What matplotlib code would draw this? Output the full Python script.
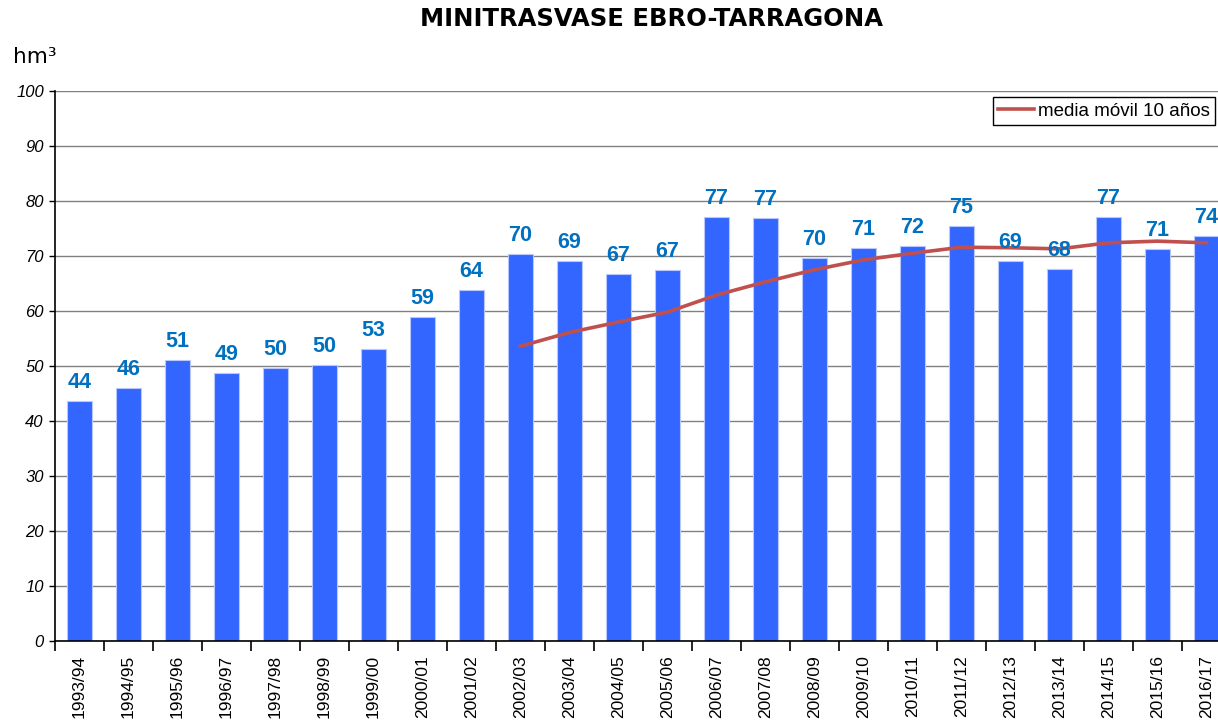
import numpy as np
import matplotlib
matplotlib.use('Agg')
import matplotlib.pyplot as plt

plt.rcParams['font.family'] = ['Liberation Sans', 'DejaVu Sans']

seasons = ['1993/94', '1994/95', '1995/96', '1996/97', '1997/98', '1998/99',
           '1999/00', '2000/01', '2001/02', '2002/03', '2003/04', '2004/05',
           '2005/06', '2006/07', '2007/08', '2008/09', '2009/10', '2010/11',
           '2011/12', '2012/13', '2013/14', '2014/15', '2015/16', '2016/17']
volume = [43.6, 46.0, 51.1, 48.7, 49.6, 50.2, 53.1, 58.9, 63.8, 70.4, 69.1, 66.7,
          67.4, 77.1, 76.9, 69.6, 71.4, 71.8, 75.4, 69.1, 67.6, 77.1, 71.3, 73.6]
# media movil 10 anos (from 2002/03 on)
ma_start = 9
moving_avg = [53.6, 56.1, 58.0, 59.8, 62.9, 65.3, 67.5, 69.3, 70.5, 71.6,
              71.5, 71.3, 72.4, 72.7, 72.4]

W, H = 1218, 723
fig = plt.figure(figsize=(W / 100, H / 100), dpi=100)
ax = fig.add_axes([55 / W, (H - 641) / H, 1176 / W, 550 / H])

x = np.arange(len(seasons))
ax.bar(x, volume, width=0.5, color='#3366FF', edgecolor='#B8C8FF', linewidth=0.8, zorder=2)
for xi, v in zip(x, volume):
    ax.text(xi, v + 1.5, '%d' % round(v), ha='center', va='bottom', color='#0070C0',
            fontsize=15.5, fontweight='bold', zorder=4)

xm = x[ma_start:ma_start + len(moving_avg)]
line, = ax.plot(xm, moving_avg, color='#C0504D', linewidth=2.6, zorder=3)

ax.set_xlim(-0.5, len(seasons) - 0.5)
ax.set_ylim(0, 100)
ax.set_yticks(range(0, 101, 10))
ax.yaxis.grid(True, color='#808080', linewidth=1.0, zorder=0)
for lbl in ax.get_yticklabels():
    lbl.set_fontstyle('italic')
ax.tick_params(axis='y', labelsize=12, length=4, width=1, direction='out', pad=4)

ax.set_xticks(x)
ax.set_xticklabels(seasons, rotation=90, fontsize=12.5)
ax.set_xticks(np.arange(-0.5, len(seasons)), minor=True)
ax.tick_params(axis='x', which='major', length=0, pad=10)
ax.tick_params(axis='x', which='minor', length=7, width=1.2, direction='out')

ax.spines['top'].set_visible(False)
ax.spines['right'].set_visible(False)
ax.spines['left'].set_linewidth(1.2)
ax.spines['bottom'].set_linewidth(1.2)

# title and unit look wider than Arial, DejaVu fits the width better
fig.text(652 / W, 1 - 19 / H, 'MINITRASVASE EBRO-TARRAGONA', ha='center', va='center',
         fontsize=17.5, fontweight='bold', family='DejaVu Sans')
fig.text(13 / W, 1 - 57 / H, 'hm³', ha='left', va='center', fontsize=15.5,
         family='DejaVu Sans')

fig.legend([line], ['media móvil 10 años'], loc='upper right',
           bbox_to_anchor=(1215 / W, 1 - 97 / H), fontsize=13.5, frameon=True,
           fancybox=False, edgecolor='black', framealpha=1, handlelength=1.9,
           borderpad=0.3, handletextpad=0.2, borderaxespad=0)

fig.savefig('out.png', dpi=100)
